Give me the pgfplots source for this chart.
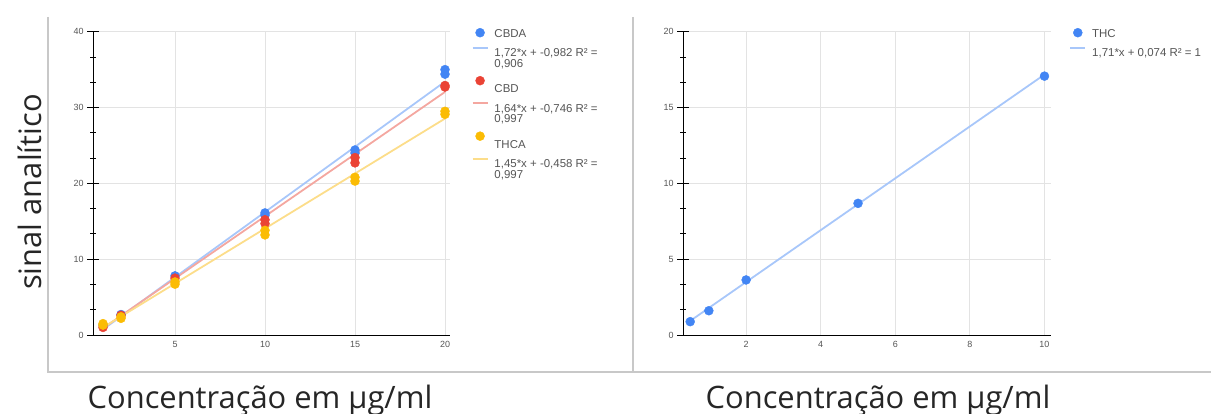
\documentclass[border=0pt]{standalone}
\usepackage{pgfplots}
\pgfplotsset{compat=1.18}
\usepackage{fontspec}
\setmainfont{Liberation Sans}
\newfontfamily\labelfont{Open Sans}
\definecolor{gblue}{HTML}{4285F4}
\definecolor{gred}{HTML}{EA4335}
\definecolor{gyellow}{HTML}{FBBC04}
\definecolor{lblue}{HTML}{A8C7FA}
\definecolor{lred}{HTML}{F4A7A0}
\definecolor{lyellow}{HTML}{FCDD8A}
\definecolor{gridc}{HTML}{E3E3E3}
\definecolor{framec}{HTML}{C8C8C8}
\definecolor{tickc}{HTML}{555555}
% struts: height h, depth 3bp
\newcommand{\hs}[1]{\rule[-3bp]{0pt}{\dimexpr#1bp+3bp\relax}}
\pgfplotsset{
 gchart/.style={
  scale only axis, clip=false,
  axis x line*=bottom, axis y line*=left,
  axis line style={-, black, line width=0.8bp},
  grid=major, major grid style={gridc, line width=0.8bp},
  tick align=center,
  x tick style={draw=none},
  y tick style={black, line width=0.8bp},
  major tick length=12bp, minor tick length=6bp,
  minor y tick num=2,
  ticklabel style={font=\fontsize{9}{10}\selectfont, text=tickc},
  xticklabel style={yshift=3bp},
  /pgf/number format/assume math mode=true,
  legend cell align=left,
  legend style={draw=none, fill=none, anchor=north west, inner sep=0bp, font=\fontsize{11.5}{12}\selectfont, text=tickc, row sep=0bp, column sep=6bp, nodes={inner sep=0bp}},
  legend image code/.code={\draw[yshift=1bp, mark repeat=2, mark phase=2, #1] plot coordinates {(0bp,0bp) (7.5bp,0bp) (15bp,0bp)};},
 },
 pts/.style={#1, only marks, mark=*, mark size=4.5bp, mark options={draw=none, fill=#1}},
 trend/.style={#1, line width=1.8bp, no marks},
}
\begin{document}
\begin{tikzpicture}
\useasboundingbox (0,0) rectangle (1211bp,414bp);
% frame
\draw[framec, line width=1.2bp] (48bp,397bp) -- (48bp,42bp) -- (1211bp,42bp);
\draw[framec, line width=1.2bp] (633bp,397bp) -- (633bp,42bp);
% labels
\node[rotate=90, font=\labelfont\fontsize{31}{33}\selectfont, text=black!85] at (30bp,222bp) {sinal analítico};
\node[anchor=base, font=\labelfont\fontsize{31}{33}\selectfont, text=black!85] at (260bp,6bp) {Concentração em µg/ml};
\node[anchor=base, font=\labelfont\fontsize{31}{33}\selectfont, text=black!85] at (878bp,6bp) {Concentração em µg/ml};

\begin{axis}[gchart, at={(93.1bp,79bp)}, anchor=south west,
  width=357.3bp, height=303.3bp,
  xmin=0.45, xmax=20.3, ymin=0, ymax=40,
  xtick={5,10,15,20}, ytick={0,10,20,30,40},
  legend style={at={(1.059,1.0122)}}]
\addplot[pts=gblue] coordinates {(1,1.3) (2,2.7) (5,7.8) (10,16.1) (10,15.8) (15,24.4) (15,24.0) (20,35.0) (20,34.4)};
\addlegendentry{\hs{9}CBDA}
\addplot[trend=lblue] coordinates {(1,0.738) (20,33.418)};
\addlegendentry{\hs{18}1,72*x + -0,982 R² =}
\addlegendimage{empty legend}
\addlegendentry{\hs{9}0,906}
\addplot[pts=gred] coordinates {(1,1.0) (2,2.6) (5,7.5) (10,15.2) (10,14.7) (15,23.4) (15,22.7) (20,32.9) (20,32.7)};
\addlegendentry{\hs{24}CBD}
\addplot[trend=lred] coordinates {(1,0.894) (20,32.054)};
\addlegendentry{\hs{18}1,64*x + -0,746 R² =}
\addlegendimage{empty legend}
\addlegendentry{\hs{9}0,997}
\addplot[pts=gyellow] coordinates {(1,1.5) (1,1.3) (2,2.4) (2,2.2) (5,7.0) (5,6.7) (10,13.8) (10,13.2) (15,20.8) (15,20.3) (20,29.5) (20,29.1)};
\addlegendentry{\hs{24}THCA}
\addplot[trend=lyellow] coordinates {(1,0.992) (20,28.542)};
\addlegendentry{\hs{18}1,45*x + -0,458 R² =}
\addlegendimage{empty legend}
\addlegendentry{\hs{9}0,997}
\end{axis}

\begin{axis}[gchart, at={(683.1bp,79bp)}, anchor=south west,
  width=367.7bp, height=303.3bp,
  xmin=0.31, xmax=10.17, ymin=0, ymax=20,
  xtick={2,4,6,8,10}, ytick={0,5,10,15,20},
  legend style={at={(1.050,1.0122)}}]
\addplot[pts=gblue] coordinates {(0.5,0.88) (1,1.6) (2,3.63) (5,8.68) (10,17.07)};
\addlegendentry{\hs{9}THC}
\addplot[trend=lblue] coordinates {(0.5,0.929) (10,17.174)};
\addlegendentry{\hs{18}1,71*x + 0,074 R² = 1}
\end{axis}
\end{tikzpicture}
\end{document}
